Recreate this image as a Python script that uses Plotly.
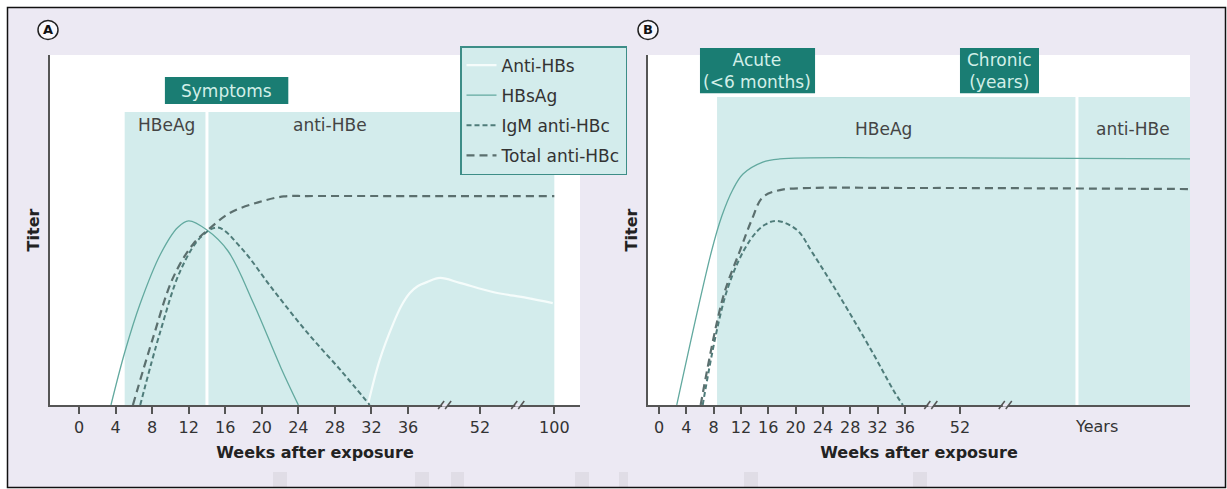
import numpy as np
import plotly.graph_objects as go

W, H = 1227, 489

# ---------------- data: titer (arbitrary units 0-100) vs weeks after exposure ----------------
# Panel A: acute hepatitis B with recovery
a_hbsag_weeks = [3.5, 5.0, 6.7, 8.9, 10.8, 12.0, 14.0, 16.3, 19.1, 22.1, 24.0]
a_hbsag_titer = [0, 15, 29, 43, 50.7, 52.6, 50.0, 44, 29, 10.6, 0]

a_igm_weeks = [6.7, 8.9, 11.1, 13.3, 15.2, 17.7, 21.3, 25.1, 28.7, 31.8]
a_igm_titer = [0, 21, 38.4, 47.9, 50.7, 45, 32.7, 20.3, 9.7, 0]

a_total_weeks = [5.9, 8.1, 10.3, 12.5, 14.4, 16.6, 19.6, 22.4, 25, 36, 52, 100]
a_total_titer = [0, 19.2, 36.4, 46, 50.7, 55, 57.9, 59.6, 59.7, 59.7, 59.7, 59.7]

a_antihbs_weeks = [31.6, 32.9, 34.4, 35.3, 36.4, 38.2, 40.2, 43.1, 47.5, 60.3, 82.2, 99.0]
a_antihbs_titer = [0, 12.9, 23.4, 28.5, 32.0, 34.0, 35.1, 36.3, 34.9, 32.3, 30.6, 29.1]

# Panel B: progression to chronic infection
b_hbsag_weeks = [2.6, 7.7, 9.2, 10.8, 12.3, 15.2, 17.7, 36, 52, 520]
b_hbsag_titer = [0, 44, 54, 61.5, 66, 69.4, 70.3, 70.6, 70.6, 70.3]

b_igm_weeks = [6.4, 10, 13.3, 15.5, 17.3, 20.2, 22.5, 26.5, 31.3, 34.3, 35.7]
b_igm_titer = [0, 33, 47, 51.5, 52.6, 50, 43.4, 30.9, 14.9, 4.3, 0]

b_total_weeks = [6.1, 9.4, 11.9, 13.6, 15.2, 17.7, 22.1, 36, 52, 520]
b_total_titer = [0, 30.9, 44.3, 53, 59.4, 61.4, 62, 62, 62, 61.7]

a_tick_weeks = [0, 4, 8, 12, 16, 20, 24, 28, 32, 36, 52, 100]
b_tick_weeks = [0, 4, 8, 12, 16, 20, 24, 28, 32, 36, 52]

# ---------------- broken x axes: weeks -> axis position ----------------
A_BW, A_BP = [0, 36, 52, 100], [0, 36, 43.87, 52.0]
B_BW, B_BP = [0, 36, 52, 520], [0, 36, 44.07, 77.75]
A_RANGE, B_RANGE = [-3.17, 54.81], [-1.61, 77.75]
A_DOM, B_DOM = (50, 580), (648, 1190)
Y_TOP, Y_BOT = 55, 405


def pos(weeks, bw, bp):
    return np.interp(np.asarray(weeks, float), bw, bp)


def paper_x(p, dom, rng):
    return (dom[0] + (p - rng[0]) / (rng[1] - rng[0]) * (dom[1] - dom[0])) / W


def paper_y(titer):
    return 1 - (Y_BOT - titer / 100 * (Y_BOT - Y_TOP)) / H


PANELS = {
    "A": dict(bw=A_BW, bp=A_BP, dom=A_DOM, rng=A_RANGE, xa="x", ya="y"),
    "B": dict(bw=B_BW, bp=B_BP, dom=B_DOM, rng=B_RANGE, xa="x2", ya="y2"),
}

TEAL_BG = "#d3ecec"
DARK_TEAL = "#1a7d73"
BOX_TEXT = "#d2efe8"
LAVENDER = "#ece9f3"
AXIS = "#555555"
FONT = "DejaVu Sans"

STYLES = {
    "Anti-HBs": dict(color="#f5fcfb", width=2.2, dash="solid"),
    "HBsAg": dict(color="#62a99f", width=1.3, dash="solid"),
    "IgM anti-HBc": dict(color="#4f7c7a", width=2.0, dash="5px,3px"),
    "Total anti-HBc": dict(color="#5b6f6e", width=2.2, dash="8px,5px"),
}

fig = go.Figure()


def add_curve(panel, name, weeks, titer, legend):
    p = PANELS[panel]
    fig.add_trace(go.Scatter(
        x=pos(weeks, p["bw"], p["bp"]), y=titer, mode="lines", name=name,
        xaxis=p["xa"], yaxis=p["ya"], legendgroup=name, showlegend=legend,
        line=dict(shape="spline", smoothing=1.0, **STYLES[name]),
        hoverinfo="skip",
    ))


add_curve("A", "Anti-HBs", a_antihbs_weeks, a_antihbs_titer, True)
add_curve("A", "HBsAg", a_hbsag_weeks, a_hbsag_titer, True)
add_curve("A", "IgM anti-HBc", a_igm_weeks, a_igm_titer, True)
add_curve("A", "Total anti-HBc", a_total_weeks, a_total_titer, True)
add_curve("B", "HBsAg", b_hbsag_weeks, b_hbsag_titer, False)
add_curve("B", "IgM anti-HBc", b_igm_weeks, b_igm_titer, False)
add_curve("B", "Total anti-HBc", b_total_weeks, b_total_titer, False)

shapes = []
annotations = []


def rect(panel, w0, w1, t0, t1, fill, layer="below"):
    p = PANELS[panel]
    shapes.append(dict(
        type="rect", xref="paper", yref="paper", layer=layer,
        x0=paper_x(pos(w0, p["bw"], p["bp"]), p["dom"], p["rng"]),
        x1=paper_x(pos(w1, p["bw"], p["bp"]), p["dom"], p["rng"]),
        y0=paper_y(t0), y1=paper_y(t1), fillcolor=fill, line=dict(width=0),
    ))


def vline(panel, w, t1, color, width):
    p = PANELS[panel]
    xx = paper_x(pos(w, p["bw"], p["bp"]), p["dom"], p["rng"])
    shapes.append(dict(type="line", xref="paper", yref="paper", layer="below",
                       x0=xx, x1=xx, y0=paper_y(0), y1=paper_y(t1),
                       line=dict(color=color, width=width)))


def label(panel, w, t, text, color="#444", size=17, bold=False):
    p = PANELS[panel]
    annotations.append(dict(
        xref=p["xa"], yref=p["ya"], x=float(pos(w, p["bw"], p["bp"])), y=t,
        xanchor="center", yanchor="middle",
        text=text, showarrow=False, align="center",
        font=dict(family=FONT, size=size, color=color, weight="bold" if bold else "normal"),
    ))


# shaded HBeAg / anti-HBe phases
rect("A", 5.0, 100, 0, 83.7, TEAL_BG)
vline("A", 14.0, 83.7, "white", 3)
rect("B", 8.5, 520, 0, 88.0, TEAL_BG)
vline("B", 290, 88.0, "white", 3)

label("A", 9.6, 80, "HBeAg")
label("A", 27.5, 80, "anti-HBe")
label("B", 32.9, 79, "HBeAg")
label("B", 405, 79, "anti-HBe")

# clinical phase boxes
rect("A", 9.4, 22.9, 86.0, 93.7, DARK_TEAL)
label("A", 16.15, 89.85, "Symptoms", color=BOX_TEXT)
rect("B", 6.0, 22.85, 89.1, 102.0, DARK_TEAL)
label("B", 14.4, 95.55, "Acute<br>(&lt;6 months)", color=BOX_TEXT)
rect("B", 52, 212.8, 89.1, 102.0, DARK_TEAL)
label("B", 132, 95.55, "Chronic<br>(years)", color=BOX_TEXT)

# axis break marks
for panel, breaks in (("A", [40.0, 48.0]), ("B", [39.8, 50.7])):
    p = PANELS[panel]
    for b in breaks:
        cx = paper_x(b, p["dom"], p["rng"]) * W
        yb = Y_BOT
        shapes.append(dict(type="rect", xref="paper", yref="paper", layer="above",
                           x0=(cx - 2.5) / W, x1=(cx + 2.5) / W,
                           y0=1 - (yb + 1.6) / H, y1=1 - (yb - 1.6) / H,
                           fillcolor=LAVENDER, line=dict(width=0)))
        for dx in (-3.5, 3.5):
            shapes.append(dict(type="line", xref="paper", yref="paper", layer="above",
                               x0=(cx + dx - 3) / W, x1=(cx + dx + 3) / W,
                               y0=1 - (yb + 4) / H, y1=1 - (yb - 4) / H,
                               line=dict(color=AXIS, width=1.5)))

# "Years" label on the chronic axis
annotations.append(dict(xref="x2", yref="paper", x=64.1, y=1 - 426 / H, text="Years",
                        xanchor="center", yanchor="middle", showarrow=False,
                        font=dict(family=FONT, size=16, color="#333")))

# circled panel letters
for letter, cx in (("A", 48), ("B", 648)):
    shapes.append(dict(type="circle", xref="paper", yref="paper", layer="above",
                       x0=(cx - 10) / W, x1=(cx + 10) / W, y0=1 - 39.5 / H, y1=1 - 20.5 / H,
                       fillcolor="#f8f7fb", line=dict(color="#222", width=1.5)))
    annotations.append(dict(xref="paper", yref="paper", x=cx / W, y=1 - 30 / H, text=letter,
                            xanchor="center", yanchor="middle", showarrow=False,
                            font=dict(family=FONT, size=13, color="#111", weight="bold")))

# faint marks along the bottom edge
for x0, x1 in ((273, 287), (415, 429), (451, 464), (575, 589), (619, 628), (744, 758), (913, 927)):
    shapes.append(dict(type="rect", xref="paper", yref="paper", layer="below",
                       x0=x0 / W, x1=x1 / W, y0=1 - 487 / H, y1=1 - 472 / H,
                       fillcolor="#e0dde6", line=dict(width=0)))

# outer frame and white margin
for x0, x1, y0, y1 in ((0, 7, 0, H), (1226, W, 0, H), (0, W, 0, 7), (0, W, 488, H)):
    shapes.append(dict(type="rect", xref="paper", yref="paper", layer="above",
                       x0=x0 / W, x1=x1 / W, y0=1 - y1 / H, y1=1 - y0 / H,
                       fillcolor="white", line=dict(width=0)))
shapes.append(dict(type="rect", xref="paper", yref="paper", layer="above",
                   x0=7.5 / W, x1=1225.5 / W, y0=1 - 487.5 / H, y1=1 - 7.5 / H,
                   line=dict(color="#111", width=1.5)))


def xaxis(panel, ticks):
    p = PANELS[panel]
    return dict(
        domain=[p["dom"][0] / W, p["dom"][1] / W], range=p["rng"], anchor=p["ya"],
        showline=True, linecolor=AXIS, linewidth=2, ticks="outside", ticklen=7,
        tickwidth=1.5, tickcolor=AXIS, showgrid=False, zeroline=False, fixedrange=True,
        tickmode="array", tickvals=list(pos(ticks, p["bw"], p["bp"])),
        ticktext=[str(t) for t in ticks],
        tickfont=dict(family=FONT, size=16, color="#333"),
        title=dict(text="Weeks after exposure", standoff=11,
                   font=dict(family=FONT, size=16, color="#222", weight="bold")),
    )


def yaxis(panel):
    p = PANELS[panel]
    return dict(
        domain=[1 - Y_BOT / H, 1 - Y_TOP / H], range=[0, 100], anchor=p["xa"],
        showline=True, linecolor=AXIS, linewidth=2, ticks="", showticklabels=False,
        showgrid=False, zeroline=False, fixedrange=True,
        title=dict(text="Titer", standoff=4,
                   font=dict(family=FONT, size=16, color="#222", weight="bold")),
    )


fig.update_layout(
    width=W, height=H, margin=dict(l=0, r=0, t=0, b=0),
    paper_bgcolor=LAVENDER, plot_bgcolor="white",
    font=dict(family=FONT, size=16, color="#333"),
    xaxis=xaxis("A", a_tick_weeks), yaxis=yaxis("A"),
    xaxis2=xaxis("B", b_tick_weeks), yaxis2=yaxis("B"),
    showlegend=True,
    legend=dict(x=460 / W, y=1 - 46 / H, xanchor="left", yanchor="top",
                bgcolor=TEAL_BG, bordercolor="#3d8d87", borderwidth=1.5,
                font=dict(family=FONT, size=17, color="#333"),
                tracegroupgap=5, itemwidth=30, traceorder="grouped"),
    shapes=shapes, annotations=annotations,
)

fig.write_html("out.html")
